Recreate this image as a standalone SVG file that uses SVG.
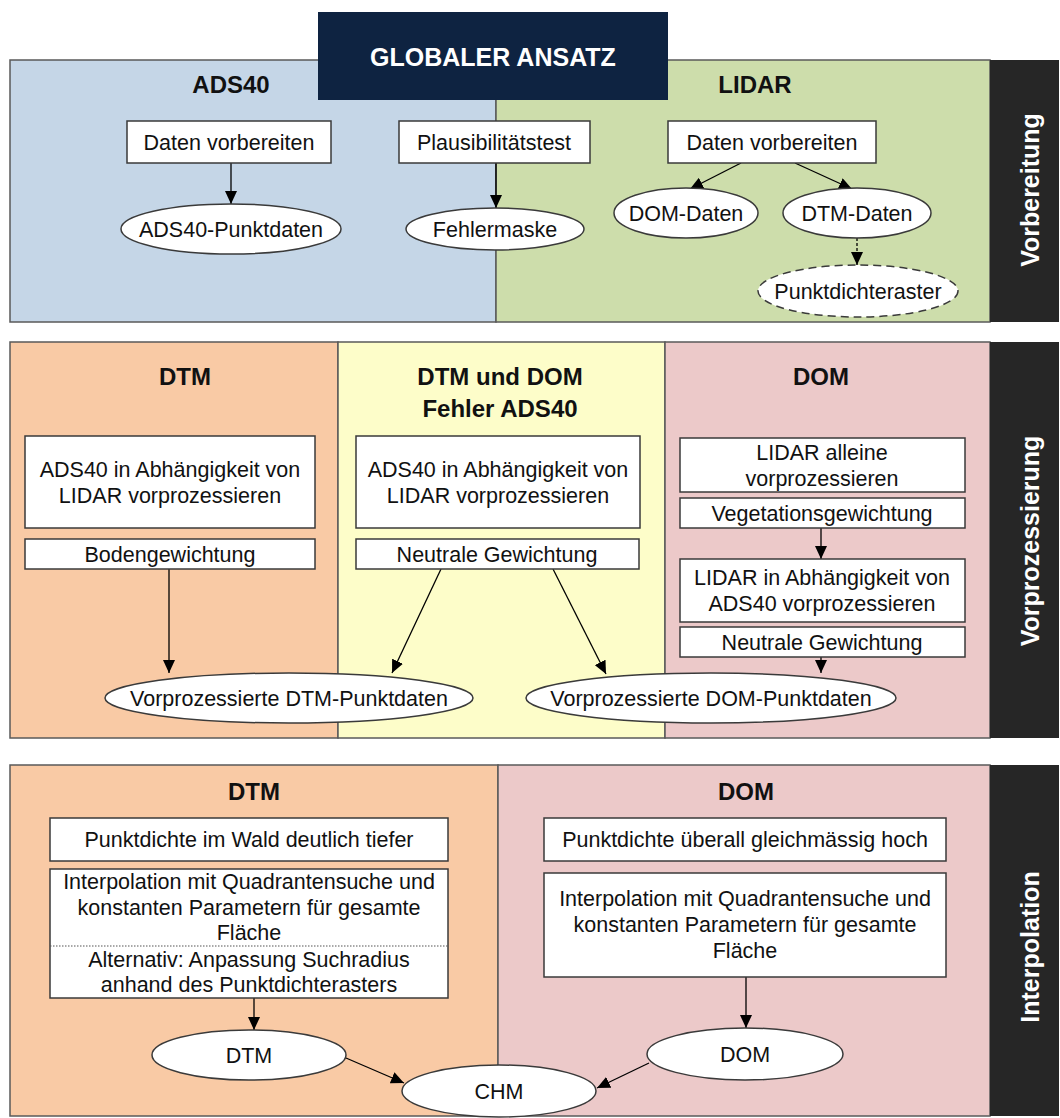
<svg xmlns="http://www.w3.org/2000/svg" width="1060" height="1118" viewBox="0 0 1060 1118">
<defs>
<marker id="ah" markerUnits="userSpaceOnUse" markerWidth="14" markerHeight="12" refX="13" refY="6" orient="auto">
<path d="M0,0 L13,6 L0,12 z" fill="#000"/>
</marker>
<style>
.sec{stroke:#5a5a5a;stroke-width:1.5}
.box{fill:#fff;stroke:#3a3a3a;stroke-width:1.5}
.ell{fill:#fff;stroke:#3a3a3a;stroke-width:1.5}
.t{font-family:"Liberation Sans",Arial,sans-serif;font-size:21.5px;fill:#111;text-anchor:middle}
.h{font-family:"Liberation Sans",Arial,sans-serif;font-size:24px;font-weight:bold;fill:#111;text-anchor:middle}
.v{font-family:"Liberation Sans",Arial,sans-serif;font-size:25px;font-weight:bold;fill:#fff;text-anchor:middle}
.c{fill:none;stroke:#000;stroke-width:1.3;marker-end:url(#ah)}
</style>
</defs>
<rect width="1060" height="1118" fill="#fff"/>

<!-- Section 1: Vorbereitung -->
<g id="sec-vorbereitung">
<rect class="sec" x="10" y="60" width="486" height="262" fill="#c5d6e7"/>
<rect class="sec" x="496" y="60" width="494" height="262" fill="#cdddab"/>
<rect x="990" y="60" width="69" height="262" fill="#262626"/>
<text class="v" transform="translate(1039,190) rotate(-90)">Vorbereitung</text>
<text class="h" x="231" y="93">ADS40</text>
<text class="h" x="755" y="93">LIDAR</text>
</g>
<g id="title">
<rect x="318" y="12" width="350" height="88" fill="#0e2341"/>
<text class="v" x="493" y="66">GLOBALER ANSATZ</text>
</g>

<!-- Section 2: Vorprozessierung -->
<g id="sec-vorprozessierung">
<rect class="sec" x="10" y="342" width="328" height="396" fill="#f9caa5"/>
<rect class="sec" x="338" y="342" width="327" height="396" fill="#fdfdc9"/>
<rect class="sec" x="665" y="342" width="325" height="396" fill="#ecc9c9"/>
<rect x="990" y="342" width="69" height="396" fill="#262626"/>
<text class="v" transform="translate(1039,541) rotate(-90)">Vorprozessierung</text>
<text class="h" x="185" y="385">DTM</text>
<text class="h" x="500" y="385">DTM und DOM</text>
<text class="h" x="500" y="417">Fehler ADS40</text>
<text class="h" x="821" y="385">DOM</text>
</g>

<!-- Section 3: Interpolation -->
<g id="sec-interpolation">
<rect class="sec" x="10" y="765" width="488" height="351" fill="#f9caa5"/>
<rect class="sec" x="498" y="765" width="492" height="351" fill="#ecc9c9"/>
<rect x="990" y="765" width="69" height="351" fill="#262626"/>
<text class="v" transform="translate(1039,947) rotate(-90)">Interpolation</text>
<text class="h" x="254" y="800">DTM</text>
<text class="h" x="746" y="800">DOM</text>
</g>

<!-- Connectors -->
<g id="connectors">
<line class="c" x1="231" y1="163" x2="231" y2="204"/>
<line class="c" x1="496" y1="163" x2="496" y2="208"/>
<line class="c" x1="741" y1="163" x2="690" y2="189"/>
<line class="c" x1="795" y1="163" x2="852" y2="189"/>
<line class="c" x1="857" y1="238" x2="857" y2="265" stroke-dasharray="3,2"/>
<line class="c" x1="169" y1="569" x2="169" y2="673"/>
<line class="c" x1="441" y1="569" x2="392" y2="673"/>
<line class="c" x1="553" y1="569" x2="606" y2="674"/>
<line class="c" x1="821" y1="528" x2="821" y2="559"/>
<line class="c" x1="821" y1="657" x2="821" y2="673"/>
<line class="c" x1="254" y1="998" x2="254" y2="1030"/>
<line class="c" x1="346" y1="1058" x2="404" y2="1083"/>
<line class="c" x1="649" y1="1063" x2="597" y2="1088"/>
<line class="c" x1="746" y1="977" x2="746" y2="1028"/>
</g>

<!-- Nodes section 1 -->
<g id="n-ads40-daten">
<rect class="box" x="127" y="121" width="204" height="42"/>
<text class="t" x="229" y="149.7">Daten vorbereiten</text>
</g>
<g id="n-ads40-punktdaten">
<ellipse class="ell" cx="231" cy="229" rx="110" ry="25"/>
<text class="t" x="231" y="236.7">ADS40-Punktdaten</text>
</g>
<g id="n-plausi">
<rect class="box" x="399" y="121" width="191" height="42"/>
<text class="t" x="494" y="149.7">Plausibilitätstest</text>
</g>
<g id="n-fehlermaske">
<ellipse class="ell" cx="495" cy="229" rx="89" ry="21"/>
<text class="t" x="495" y="236.7">Fehlermaske</text>
</g>
<g id="n-lidar-daten">
<rect class="box" x="668" y="121" width="208" height="42"/>
<text class="t" x="772" y="149.7">Daten vorbereiten</text>
</g>
<g id="n-dom-daten">
<ellipse class="ell" cx="686" cy="213" rx="72" ry="25"/>
<text class="t" x="686" y="220.7">DOM-Daten</text>
</g>
<g id="n-dtm-daten">
<ellipse class="ell" cx="857" cy="213" rx="74" ry="25"/>
<text class="t" x="857" y="220.7">DTM-Daten</text>
</g>
<g id="n-punktdichteraster">
<ellipse class="ell" cx="858" cy="291" rx="100" ry="26" stroke-dasharray="8,5"/>
<text class="t" x="858" y="298.7">Punktdichteraster</text>
</g>

<!-- Nodes section 2 -->
<g id="n-dtm-ads40">
<rect class="box" x="25" y="436" width="290" height="92"/>
<text class="t" x="170" y="476.7">ADS40 in Abhängigkeit von</text>
<text class="t" x="170" y="502.7">LIDAR vorprozessieren</text>
</g>
<g id="n-bodengewichtung">
<rect class="box" x="25" y="539" width="290" height="30"/>
<text class="t" x="170" y="561.7">Bodengewichtung</text>
</g>
<g id="n-mid-ads40">
<rect class="box" x="356" y="436" width="284" height="92"/>
<text class="t" x="498" y="476.7">ADS40 in Abhängigkeit von</text>
<text class="t" x="498" y="502.7">LIDAR vorprozessieren</text>
</g>
<g id="n-mid-neutral">
<rect class="box" x="356" y="539" width="283" height="30"/>
<text class="t" x="497" y="561.7">Neutrale Gewichtung</text>
</g>
<g id="n-lidar-alleine">
<rect class="box" x="680" y="438" width="285" height="54"/>
<text class="t" x="822" y="459.7">LIDAR alleine</text>
<text class="t" x="822" y="485.7">vorprozessieren</text>
</g>
<g id="n-vegetation">
<rect class="box" x="680" y="498" width="285" height="30"/>
<text class="t" x="822" y="520.7">Vegetationsgewichtung</text>
</g>
<g id="n-lidar-ads40">
<rect class="box" x="680" y="559" width="285" height="63"/>
<text class="t" x="822" y="585.2">LIDAR in Abhängigkeit von</text>
<text class="t" x="822" y="611.2">ADS40 vorprozessieren</text>
</g>
<g id="n-dom-neutral">
<rect class="box" x="680" y="627" width="285" height="30"/>
<text class="t" x="822" y="649.7">Neutrale Gewichtung</text>
</g>
<g id="n-vp-dtm">
<ellipse class="ell" cx="289" cy="698" rx="184" ry="25"/>
<text class="t" x="289" y="705.7">Vorprozessierte DTM-Punktdaten</text>
</g>
<g id="n-vp-dom">
<ellipse class="ell" cx="711" cy="698" rx="185" ry="25"/>
<text class="t" x="711" y="705.7">Vorprozessierte DOM-Punktdaten</text>
</g>

<!-- Nodes section 3 -->
<g id="n-dtm-dichte">
<rect class="box" x="50" y="818" width="398" height="43"/>
<text class="t" x="249" y="847.2">Punktdichte im Wald deutlich tiefer</text>
</g>
<g id="n-dtm-interp">
<rect class="box" x="50" y="869" width="398" height="129"/>
<text class="t" x="249" y="888.7">Interpolation mit Quadrantensuche und</text>
<text class="t" x="249" y="914.7">konstanten Parametern für gesamte</text>
<text class="t" x="249" y="939.7">Fläche</text>
<line x1="50" y1="946" x2="448" y2="946" stroke="#555" stroke-width="1.2" stroke-dasharray="1.5,1.5"/>
<text class="t" x="249" y="966.7">Alternativ: Anpassung Suchradius</text>
<text class="t" x="249" y="992.2">anhand des Punktdichterasters</text>
</g>
<g id="n-dom-dichte">
<rect class="box" x="544" y="818" width="402" height="43"/>
<text class="t" x="745" y="847.2">Punktdichte überall gleichmässig hoch</text>
</g>
<g id="n-dom-interp">
<rect class="box" x="544" y="873" width="402" height="104"/>
<text class="t" x="745" y="905.7">Interpolation mit Quadrantensuche und</text>
<text class="t" x="745" y="931.7">konstanten Parametern für gesamte</text>
<text class="t" x="745" y="957.7">Fläche</text>
</g>
<g id="n-dtm">
<ellipse class="ell" cx="249" cy="1055" rx="97" ry="25"/>
<text class="t" x="249" y="1062.7">DTM</text>
</g>
<g id="n-dom">
<ellipse class="ell" cx="745" cy="1054" rx="98" ry="26"/>
<text class="t" x="745" y="1061.7">DOM</text>
</g>
<g id="n-chm">
<ellipse class="ell" cx="499" cy="1091" rx="97" ry="26"/>
<text class="t" x="499" y="1098.7">CHM</text>
</g>
</svg>
